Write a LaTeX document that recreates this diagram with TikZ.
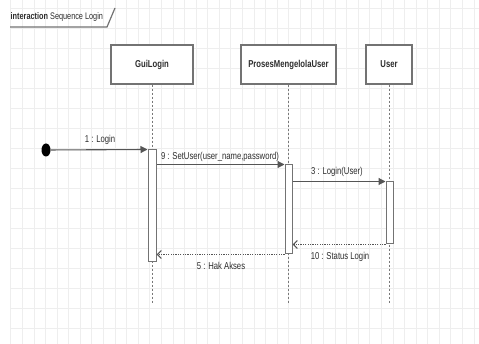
\documentclass[tikz,border=0pt]{standalone}
\usepackage{fontspec}
\setmainfont{Liberation Sans}
\usetikzlibrary{arrows.meta,shapes.geometric}

\definecolor{gridc}{RGB}{238,238,238}
\definecolor{boxline}{RGB}{115,115,115}
\definecolor{msgline}{RGB}{85,85,85}
\definecolor{txt}{RGB}{45,45,45}
\definecolor{lifec}{RGB}{120,120,120}

\newcommand{\nrw}[1]{\scalebox{0.77}[1]{#1}}

\tikzset{
  lifebox/.style={draw=boxline, line width=1.2pt, fill=white, inner sep=0pt,
    font=\fontsize{10}{12}\selectfont\bfseries, text=txt},
  actbar/.style={draw=boxline, line width=1pt, fill=white, inner sep=0pt},
  lifeline/.style={draw=lifec, line width=1pt, dash pattern=on 2pt off 2pt},
  call/.style={draw=msgline, line width=1.1pt, -{Triangle[length=7pt,width=7pt]}},
  reply/.style={draw=msgline, line width=1.1pt, dash pattern=on 1.2pt off 1.2pt,
    -{Straight Barb[length=4pt,width=8pt]}},
  msglabel/.style={font=\fontsize{10}{12}\selectfont, text=txt, inner sep=0pt},
}

\begin{document}
\begin{tikzpicture}[x=1pt,y=-1pt]
\useasboundingbox (0,0) rectangle (479,344);
\fill[white] (0,0) rectangle (479,344);

% background grid
\foreach \i in {0,...,40} {
  \draw[gridc, line width=0.6pt] ({10.7+11.58*\i},0) -- ({10.7+11.58*\i},344);
}
\foreach \j in {0,...,16} {
  \draw[gridc, line width=0.6pt] (10,{8+20*\j}) -- (479,{8+20*\j});
}

% frame tag
\draw[boxline, line width=1.2pt] (10,27) -- (107,27) -- (115,8);
\node[msglabel, anchor=west] (title) at (10.5,17)
  {\nrw{\fontsize{9.5}{11}\selectfont\textbf{interaction} Sequence Login}};

% lifeline heads
\node[lifebox, minimum width=82pt, minimum height=39pt] (gui) at (152,64.5) {\nrw{GuiLogin}};
\node[lifebox, minimum width=95pt, minimum height=39pt] (proc) at (288.5,64.5) {\nrw{ProsesMengelolaUser}};
\node[lifebox, minimum width=46pt, minimum height=39pt] (user) at (389,64.5) {\nrw{User}};

% lifelines
\coordinate (bottom) at (0,304);
\draw[lifeline] (gui.south) -- (gui.south |- bottom);
\draw[lifeline] (proc.south) -- (proc.south |- bottom);
\draw[lifeline] (user.south) -- (user.south |- bottom);

% activation bars
\node[actbar, minimum width=8pt, minimum height=112pt] (a1) at (152,206) {};
\node[actbar, minimum width=7pt, minimum height=89pt] (a2) at (288.5,209.5) {};
\node[actbar, minimum width=7pt, minimum height=62pt] (a3) at (389.5,213) {};

% initial point
\node[ellipse, fill=black, minimum width=9pt, minimum height=13pt, inner sep=0pt] (start) at (46,150) {};

% messages
\draw[call] (start) -- (a1.north west);
\node[msglabel] (l1) at (100,140) {\nrw{1 : Login}};

\draw[call] (a1.east |- a2.north) -- (a2.north west);
\node[msglabel] (l9) at (220,157) {\nrw{9 : SetUser(user\_name,password)}};

\draw[call] (a2.east |- a3.north) -- (a3.north west);
\node[msglabel] (l3) at (337,172) {\nrw{3 : Login(User)}};

\draw[reply] (a3.south west) -- (a2.east |- a3.south);
\node[msglabel] (l10) at (340,256.5) {\nrw{10 : Status Login}};

\draw[reply] (a2.south west) -- (a1.east |- a2.south);
\node[msglabel] (l5) at (221,265.5) {\nrw{5 : Hak Akses}};

\end{tikzpicture}
\end{document}
